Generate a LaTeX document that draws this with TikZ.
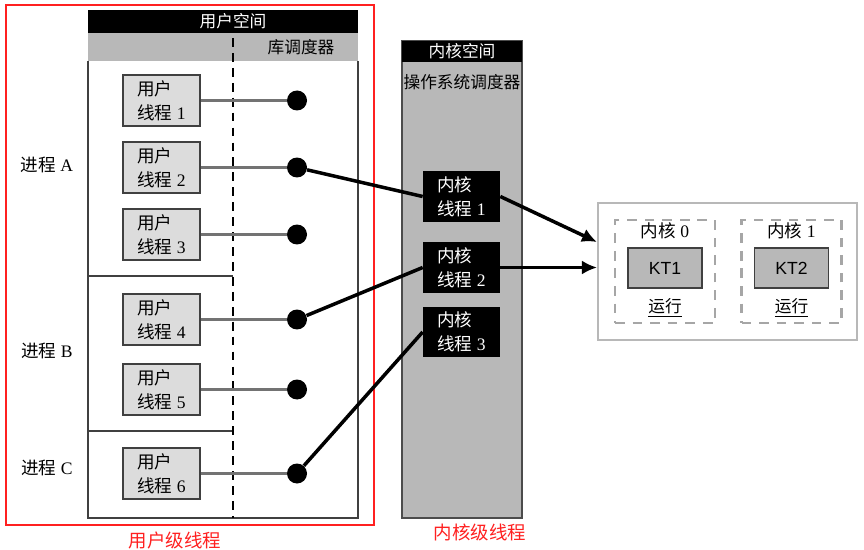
\documentclass[tikz,border=0pt]{standalone}
\usepackage{fontspec}
\setmainfont{Liberation Serif}
\newfontfamily\cjk{Noto Sans CJK SC}
\newfontfamily\ktfont{Liberation Sans}
\usetikzlibrary{positioning}
\usetikzlibrary{arrows.meta}
\definecolor{panel-gray}{HTML}{B8B8B8}
\definecolor{thread-gray}{HTML}{DCDCDC}
\definecolor{note-red}{HTML}{FF2020}
\tikzset{
  user-thread/.style={draw=black!75, fill=thread-gray, line width=0.7pt,
    minimum width=1.54cm, minimum height=1.02cm, align=left, inner sep=1pt,
    font=\fontsize{10}{13.5}\selectfont},
  kernel-thread/.style={fill=black, text=white,
    minimum width=1.54cm, minimum height=1.02cm, align=left, inner sep=1pt,
    font=\fontsize{10}{13.5}\selectfont},
  lib-dot/.style={circle, fill=black, minimum size=0.4cm, inner sep=0pt},
  link-path/.style={line width=1.7pt, draw=black!55},
  map-path/.style={line width=2pt},
  run-path/.style={line width=2pt, -{Latex[length=0.3cm, width=0.28cm]}},
  space-label/.style={font=\cjk\fontsize{9.5}{11}\selectfont},
  proc-label/.style={font=\fontsize{10}{11}\selectfont},
  note-label/.style={text=note-red, font=\cjk\fontsize{10.5}{12}\selectfont},
  core-slot/.style={draw=black!35, line width=1.5pt, dash pattern=on 5.5pt off 4.5pt,
    minimum width=2cm, minimum height=2.06cm},
  kt-box/.style={draw=black!75, fill=panel-gray, line width=0.7pt,
    minimum width=1.48cm, minimum height=0.8cm, font=\ktfont\fontsize{10}{11}\selectfont},
}
\newcommand{\threadtext}[2]{{\cjk #1}\\{\cjk 线程} #2}

\begin{document}
\begin{tikzpicture}[x=0.02cm, y=-0.02cm]
\useasboundingbox (0,0) rectangle (864,550);
% red frame round the user level
\draw[note-red, line width=0.8pt] (6,5) rectangle (374,525);
\node[note-label] (user-note) at (175,540) {用户级线程};
% user space
\fill[black] (88,10) rectangle (358,33);
\node[space-label, text=white] (user-head) at (233,21.5) {用户空间};
\fill[panel-gray] (88,33) rectangle (358,61);
\node[space-label] (lib-sched) at (301,47) {库调度器};
\draw[black!75, line width=0.7pt] (88,61) -- (88,518) -- (358,518) -- (358,61);
\draw[black!75, line width=0.7pt] (88,276) -- (233,276) (88,431) -- (233,431);
\draw[dash pattern=on 5pt off 3.5pt, line width=0.7pt] (233,38) -- (233,518);
% processes
\node[proc-label] (proc-a) at (47,165) {{\cjk 进程} A};
\node[proc-label] (proc-b) at (47,351) {{\cjk 进程} B};
\node[proc-label] (proc-c) at (47,468) {{\cjk 进程} C};
% user threads and their library slots
\foreach \n/\y in {1/100.5, 2/167.5, 3/234.5, 4/319.5, 5/389.5, 6/473.5} {
  \node[lib-dot] (dot-\n) at (297,\y) {};
  \draw[link-path] (200,\y) -- (dot-\n);
  \node[user-thread] (ut-\n) at (161.5,\y) {\threadtext{用户}{\n}};
}
% kernel space
\draw[black!70, fill=panel-gray, line width=0.8pt] (402,41) rectangle (522,518);
\fill[black] (402,41) rectangle (522,62);
\node[space-label, text=white] (kernel-head) at (462,51.5) {内核空间};
\node[space-label] (os-sched) at (462,82) {操作系统调度器};
\node[note-label] (kernel-note) at (480,532) {内核级线程};
\foreach \n/\y in {1/196.5, 2/267.5, 3/332}
  \node[kernel-thread] (kt-\n) at (461.5,\y) {\threadtext{内核}{\n}};
% bindings
\draw[map-path] (dot-2) -- (kt-1.west);
\draw[map-path] (dot-4) -- (kt-2.west);
\draw[map-path] (dot-6) -- (kt-3.west);
% processors
\node[draw=black!28, line width=1.2pt, minimum width=5.18cm, minimum height=2.74cm] (cpu-box) at (727.5,271.5) {};
\foreach \n/\x/\k in {0/665/1, 1/791.5/2} {
  \node[core-slot] (slot-\n) at (\x,271.5) {};
  \node[kt-box] (run-\k) at (\x,268) {KT\k};
  \node[proc-label, above=1pt of run-\k] (core-\n) {{\cjk 内核} \n};
  \node[space-label, below=2pt of run-\k] (state-\n) {\underline{运行}};
}
\coordinate (cpu-in) at (597,242);
\draw[run-path] (kt-1.east) -- (cpu-in);
\draw[run-path] (kt-2.east) -- (kt-2.east -| cpu-box.west);
\end{tikzpicture}
\end{document}
